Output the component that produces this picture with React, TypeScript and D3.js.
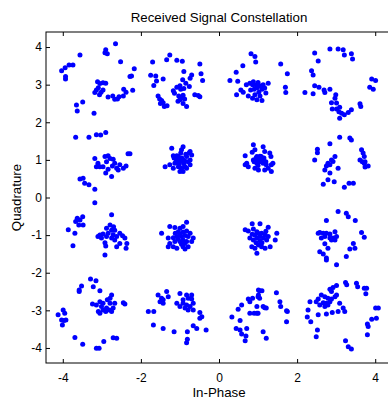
// App.tsx
// Scatter plot of received 16-QAM symbols
import React, { useEffect, useRef } from "react"
import * as d3 from "d3"

type Pt = [number, number]

// received symbols, grouped by the ideal constellation point they belong to [I, Q]
const nearM3P3: Pt[] = [
    [-4.03, 3.37], [-3.94, 3.45], [-3.84, 3.52], [-3.74, 3.52], [-3.93, 3.22], [-3.93, 3.15],
    [-3.56, 3.79], [-3.65, 2.46], [-3.63, 2.3], [-3.49, 2.54], [-3.2, 2.24], [-2.9, 3.93],
    [-2.92, 3.85], [-2.86, 3.82], [-2.65, 4.09], [-2.52, 3.61], [-2.28, 3.22], [-3.11, 3.08],
    [-3.05, 3.03], [-2.97, 3.05], [-2.9, 3.04], [-3.09, 2.92], [-3.14, 2.86], [-3.18, 2.79],
    [-3.06, 2.73], [-2.97, 2.86], [-3.02, 2.8], [-2.84, 2.67], [-2.72, 2.7], [-2.67, 2.61],
    [-2.6, 2.62], [-2.56, 2.68], [-2.44, 2.88], [-2.38, 2.8], [-2.45, 2.7], [-2.17, 3.42],
    [-2.24, 3.23], [-2.21, 2.85],
]

const nearM1P3: Pt[] = [
    [-1.7, 3.6], [-1.75, 3.25], [-1.62, 3.23], [-1.6, 3.1], [-1.67, 2.98], [-1.43, 3.15],
    [-1.34, 3.66], [-1.26, 3.79], [-1.08, 3.65], [-0.94, 3.62], [-0.49, 3.55], [-0.46, 3.29],
    [-0.42, 3.11], [-1.56, 2.7], [-1.52, 2.62], [-1.47, 2.58], [-1.43, 2.52], [-1.5, 2.5],
    [-1.4, 2.42], [-1.33, 2.44], [-1.17, 2.84], [-1.14, 2.77], [-1.08, 2.93], [-1.0, 2.97],
    [-1.03, 2.7], [-0.97, 2.64], [-0.92, 2.72], [-1.0, 2.6], [-1.05, 2.56], [-0.88, 2.62],
    [-0.92, 2.5], [-0.98, 2.88], [-0.9, 2.9], [-0.9, 3.35], [-0.93, 3.13], [-0.85, 3.04],
    [-0.74, 3.17], [-0.7, 3.26], [-0.76, 2.95], [-0.62, 2.73], [-0.53, 2.71], [-0.49, 2.68],
    [-0.83, 2.42],
]

const nearP1P3: Pt[] = [
    [0.28, 3.11], [0.44, 3.33], [0.48, 3.09], [0.61, 3.5], [0.82, 3.82], [0.92, 3.75],
    [0.94, 3.6], [0.79, 3.04], [0.86, 3.0], [0.95, 2.99], [1.0, 3.06], [0.81, 2.86],
    [0.9, 2.88], [0.92, 2.73], [0.86, 2.64], [0.97, 2.6], [0.45, 2.73], [0.56, 2.86],
    [1.04, 2.97], [1.1, 2.88], [1.17, 2.91], [1.26, 3.04], [1.1, 2.58], [1.58, 3.55],
    [1.75, 3.29], [1.7, 2.93], [1.71, 2.79], [1.02, 2.8], [0.98, 2.92], [0.7, 3.0],
    [0.62, 2.8], [1.05, 2.7], [0.88, 3.08], [1.13, 3.0], [0.75, 2.7], [1.2, 2.78],
]

const nearP3P3: Pt[] = [
    [2.45, 3.84], [2.54, 3.63], [2.37, 3.37], [2.41, 3.26], [2.84, 3.95], [3.05, 3.95],
    [3.18, 3.93], [3.21, 3.79], [3.39, 3.82], [3.42, 3.68], [2.2, 2.79], [2.41, 2.76],
    [2.45, 2.97], [2.56, 2.93], [2.69, 2.86], [2.71, 2.79], [2.84, 2.88], [2.99, 2.73],
    [2.97, 2.64], [2.88, 2.52], [3.01, 2.51], [2.9, 2.35], [3.01, 2.35], [3.09, 2.4],
    [3.07, 2.28], [3.14, 2.24], [3.21, 2.2], [3.09, 2.11], [3.31, 2.26], [3.39, 2.33],
    [3.61, 2.49], [3.63, 2.42], [3.86, 2.93], [3.95, 2.88], [3.91, 3.15], [4.01, 3.11],
]

const nearM3P1: Pt[] = [
    [-3.67, 1.6], [-3.33, 1.6], [-3.14, 1.67], [-3.03, 1.66], [-2.9, 1.73], [-2.33, 1.16],
    [-2.28, 1.16], [-3.18, 1.04], [-3.1, 0.91], [-3.05, 0.82], [-2.92, 1.09], [-2.84, 1.11],
    [-2.79, 1.04], [-2.88, 0.95], [-2.71, 1.02], [-2.67, 0.91], [-2.73, 0.84], [-2.62, 0.78],
    [-2.54, 0.87], [-2.58, 0.73], [-2.45, 0.78], [-2.38, 0.84], [-2.97, 0.82], [-2.84, 0.75],
    [-2.9, 0.65], [-2.75, 0.56], [-3.14, 0.82], [-3.56, 0.49], [-3.48, 0.51], [-3.44, 0.38],
    [-3.33, 0.34], [-3.18, 0.22], [-3.18, -0.14],
]

const nearM3M1: Pt[] = [
    [-3.63, -0.55], [-3.67, -0.64], [-3.59, -0.73], [-3.49, -0.51], [-3.56, -0.6], [-3.48, -0.73],
    [-3.86, -0.86], [-3.69, -0.95], [-3.74, -1.28], [-2.75, -0.46], [-2.79, -0.73], [-2.88, -0.82],
    [-2.7, -0.78], [-2.75, -0.87], [-2.67, -0.87], [-3.05, -1.0], [-3.1, -1.04], [-2.97, -0.97],
    [-3.01, -1.08], [-2.84, -0.95], [-2.88, -1.04], [-2.71, -0.99], [-2.62, -1.04], [-2.67, -1.13],
    [-2.75, -1.08], [-2.54, -0.95], [-2.47, -1.02], [-2.41, -1.08], [-2.36, -1.22], [-2.54, -1.22],
    [-2.62, -1.31], [-2.92, -1.2], [-2.9, -1.29], [-2.92, -1.53], [-2.38, -1.35],
]

const nearM1P1: Pt[] = [
    [-1.21, 1.31], [-0.92, 1.35], [-0.96, 1.27], [-0.74, 1.22], [-0.7, 1.13], [-1.17, 1.11],
    [-1.04, 1.09], [-0.83, 1.09], [-0.92, 1.0], [-1.0, 0.95], [-0.79, 0.95], [-1.13, 0.91],
    [-1.38, 0.82], [-1.26, 0.87], [-1.17, 0.78], [-1.04, 0.82], [-0.96, 0.78], [-0.87, 0.82],
    [-0.74, 0.87], [-1.0, 0.69], [-0.92, 0.69], [-0.83, 0.78], [-0.76, 1.19], [-0.74, 1.0],
    [-1.08, 1.11], [-1.05, 1.02], [-0.95, 1.05], [-1.1, 0.95], [-0.9, 0.9], [-0.85, 1.15],
    [-1.15, 1.05], [-0.98, 1.18], [-1.02, 0.88], [-0.88, 0.98],
]

const nearM1M1: Pt[] = [
    [-0.83, -0.66], [-1.26, -0.77], [-1.13, -0.8], [-1.0, -0.82], [-0.92, -0.77], [-1.47, -0.95],
    [-1.04, -0.91], [-0.83, -0.89], [-0.74, -0.95], [-1.3, -1.08], [-1.17, -1.07], [-1.08, -1.04],
    [-0.96, -1.04], [-0.87, -1.01], [-0.79, -1.04], [-0.66, -1.08], [-1.26, -1.22], [-1.13, -1.17],
    [-1.0, -1.17], [-0.92, -1.13], [-0.83, -1.17], [-0.7, -1.17], [-1.3, -1.31], [-1.17, -1.31],
    [-1.08, -1.35], [-0.92, -1.31], [-0.79, -1.31], [-0.87, -1.37], [-1.0, -0.98], [-0.92, -0.92],
    [-1.05, -1.1], [-0.88, -1.22], [-1.12, -0.95], [-0.96, -1.24],
]

const nearP1P1: Pt[] = [
    [0.88, 1.4], [0.67, 1.11], [0.71, 0.91], [0.75, 0.82], [0.67, 0.87], [0.92, 1.27],
    [0.97, 1.09], [0.88, 1.0], [0.97, 0.91], [0.92, 0.78], [1.01, 0.73], [1.13, 1.35],
    [1.17, 1.22], [1.3, 1.18], [1.33, 1.09], [1.08, 1.09], [1.04, 0.95], [1.13, 0.91],
    [1.21, 0.87], [1.34, 0.87], [1.26, 0.78], [1.17, 0.73], [1.34, 0.69], [1.38, 0.91],
    [1.0, 1.0], [1.05, 1.1], [0.95, 1.05], [1.1, 1.0], [0.9, 0.95], [1.0, 0.85],
    [1.15, 1.05], [0.85, 1.2], [1.2, 0.95],
]

const nearP1M1: Pt[] = [
    [0.85, -0.7], [1.05, -0.7], [1.26, -0.79], [1.48, -0.95], [0.67, -0.86], [0.75, -0.89],
    [0.88, -0.84], [0.97, -0.91], [1.09, -0.95], [1.18, -0.99], [1.26, -1.04], [0.79, -1.08],
    [0.88, -1.13], [0.97, -1.08], [1.05, -1.04], [1.14, -1.08], [1.22, -1.13], [1.44, -1.13],
    [0.84, -1.31], [0.92, -1.35], [1.01, -1.26], [1.09, -1.31], [1.18, -1.35], [1.31, -1.31],
    [0.97, -1.48], [0.92, -1.0], [1.0, -0.95], [1.05, -1.15], [0.85, -0.98], [1.1, -1.2],
    [0.95, -1.2], [1.2, -0.9],
]

const nearP3P1: Pt[] = [
    [3.09, 1.6], [3.35, 1.58], [3.39, 1.53], [2.84, 1.43], [2.52, 1.28], [2.52, 1.19],
    [2.45, 1.0], [2.97, 1.09], [2.88, 1.0], [2.79, 0.91], [2.84, 0.87], [2.75, 0.84],
    [2.92, 0.96], [2.71, 0.73], [2.84, 0.65], [2.79, 0.47], [3.05, 0.78], [2.95, 0.42],
    [2.67, 0.35], [3.21, 0.27], [3.33, 0.38], [3.44, 0.38], [3.65, 1.27], [3.69, 1.18],
    [3.72, 1.09], [3.61, 1.0], [3.67, 0.95], [3.74, 0.95], [3.82, 0.84], [3.74, 0.81],
    [3.72, 0.91],
]

const nearP3M1: Pt[] = [
    [3.05, -0.37], [3.26, -0.42], [3.31, -0.51], [3.49, -0.61], [2.75, -0.61], [2.54, -0.95],
    [2.58, -0.93], [2.67, -0.95], [2.75, -0.95], [2.84, -0.97], [2.97, -0.91], [3.01, -1.04],
    [2.92, -1.08], [2.84, -1.08], [2.71, -1.04], [2.62, -1.08], [2.88, -1.13], [2.97, -1.13],
    [2.71, -1.23], [2.79, -1.35], [2.58, -1.44], [2.67, -1.5], [2.75, -1.61], [3.26, -1.57],
    [3.65, -0.93], [3.72, -1.06], [3.48, -1.35], [3.35, -1.37], [3.44, -1.22], [2.75, -1.66],
    [3.01, -1.79],
]

const nearM3M3: Pt[] = [
    [-4.12, -3.12], [-3.99, -2.99], [-3.95, -3.08], [-4.03, -3.26], [-3.97, -3.27], [-3.92, -3.26],
    [-4.01, -3.39], [-3.69, -3.72], [-3.49, -3.9], [-3.14, -4.01], [-3.07, -4.01], [-2.95, -3.83],
    [-2.71, -3.73], [-2.62, -3.74], [-3.58, -2.46], [-3.52, -2.35], [-3.58, -2.5], [-3.29, -2.17],
    [-3.15, -2.21], [-3.22, -2.37], [-3.05, -2.48], [-3.24, -2.83], [-3.14, -2.86], [-3.05, -2.77],
    [-3.01, -2.9], [-3.09, -3.03], [-2.97, -2.99], [-2.9, -3.03], [-2.81, -2.99], [-2.88, -2.94],
    [-2.97, -2.81], [-2.79, -2.81], [-2.75, -2.59], [-2.79, -2.68], [-2.86, -2.72], [-2.67, -2.81],
    [-2.71, -2.94], [-2.75, -3.03], [-2.45, -2.8], [-2.41, -2.83], [-3.05, -3.08],
]

const nearM1M3: Pt[] = [
    [-1.81, -3.03], [-1.67, -3.03], [-1.68, -3.39], [-1.43, -3.48], [-1.15, -3.57], [-0.81, -3.57],
    [-0.81, -3.77], [-0.83, -3.86], [-0.66, -3.41], [-0.57, -3.48], [-0.33, -3.52], [-0.49, -3.06],
    [-0.44, -3.17], [-0.49, -3.21], [-1.56, -2.59], [-1.47, -2.68], [-1.51, -2.77], [-1.43, -2.72],
    [-1.34, -2.5], [-1.3, -2.64], [-1.43, -2.81], [-1.0, -2.55], [-0.83, -2.59], [-0.7, -2.59],
    [-0.79, -2.68], [-0.92, -2.72], [-1.08, -2.81], [-1.0, -2.9], [-0.87, -2.94], [-0.74, -2.9],
    [-0.66, -2.81], [-0.92, -2.81], [-0.7, -2.7], [-0.83, -2.86], [-0.66, -2.99], [-0.79, -2.99],
]

const nearP1M3: Pt[] = [
    [1.04, -2.48], [1.1, -2.48], [1.0, -2.64], [1.04, -2.68], [1.13, -2.9], [1.17, -2.93],
    [1.21, -2.94], [1.0, -3.08], [1.47, -2.53], [1.56, -2.77], [1.58, -2.9], [1.73, -3.01],
    [1.75, -3.03], [1.73, -3.3], [1.13, -3.57], [1.21, -3.74], [0.33, -3.18], [0.54, -3.27],
    [0.44, -3.48], [0.54, -3.52], [0.71, -3.48], [0.69, -3.68], [0.67, -3.81], [0.58, -3.63],
    [0.49, -2.97], [0.58, -2.86], [0.75, -2.7], [0.79, -2.77], [0.86, -2.68], [1.01, -2.46],
    [1.01, -2.59], [0.97, -2.9], [0.9, -3.08], [0.97, -3.08], [0.79, -3.08],
]

const nearP3M3: Pt[] = [
    [3.24, -2.26], [3.27, -2.32], [3.52, -2.28], [3.55, -2.37], [3.72, -2.41], [3.78, -2.41],
    [3.76, -2.56], [3.01, -2.34], [2.92, -2.39], [2.84, -2.44], [2.88, -2.5], [2.62, -2.59],
    [2.71, -2.64], [2.79, -2.68], [2.88, -2.7], [2.97, -2.64], [3.01, -2.59], [2.84, -2.77],
    [2.75, -2.81], [2.67, -2.8], [2.54, -2.7], [2.49, -2.77], [2.58, -2.86], [2.71, -2.9],
    [2.79, -2.86], [3.09, -2.81], [3.18, -2.94], [3.22, -3.03], [3.05, -3.03], [2.9, -3.06],
    [2.75, -3.1], [2.54, -3.12], [2.33, -2.77], [2.28, -2.99], [2.26, -3.18], [2.35, -3.3],
    [2.52, -3.52], [2.49, -3.7], [3.24, -3.81], [3.31, -3.97], [3.39, -4.03], [3.8, -3.36],
    [3.82, -3.43], [3.8, -3.65], [3.91, -3.24], [4.01, -2.94], [4.08, -2.94], [4.03, -3.21],
]

const clusters: Pt[][] = [
    nearM3P3, nearM1P3, nearP1P3, nearP3P3,
    nearM3P1, nearM1P1, nearP1P1, nearP3P1,
    nearM3M1, nearM1M1, nearP1M1, nearP3M1,
    nearM3M3, nearM1M3, nearP1M3, nearP3M3,
]

const xTicks = [-4, -2, 0, 2, 4]
const yTicks = [-4, -3, -2, -1, 0, 1, 2, 3, 4]

const W = 388
const H = 401
const FONT = "'Liberation Sans', Arial, Helvetica, sans-serif"

export default function App() {
    const ref = useRef<SVGSVGElement>(null)

    useEffect(() => {
        if (!ref.current) return
        const svg = d3.select(ref.current)
        svg.selectAll("*").remove()

        const left = 46, right = 392, top = 32, bottom = 363
        const x = d3.scaleLinear().domain([-4.43, 4.43]).range([left, right])
        const y = d3.scaleLinear().domain([-4.4, 4.4]).range([bottom, top])

        // box
        svg.append("rect")
            .attr("x", left).attr("y", top)
            .attr("width", right - left).attr("height", bottom - top)
            .attr("fill", "none").attr("stroke", "#000").attr("stroke-width", 1)

        const fmt = (d: d3.NumberValue) => String(d)

        const xb = svg.append("g").attr("transform", `translate(0,${bottom})`)
            .call(d3.axisBottom(x).tickValues(xTicks).tickFormat(fmt).tickSizeInner(-4).tickSizeOuter(0).tickPadding(10))
        const xt = svg.append("g").attr("transform", `translate(0,${top})`)
            .call(d3.axisTop(x).tickValues(xTicks).tickFormat(() => "").tickSizeInner(-4).tickSizeOuter(0))
        const yl = svg.append("g").attr("transform", `translate(${left},0)`)
            .call(d3.axisLeft(y).tickValues(yTicks).tickFormat(fmt).tickSizeInner(-4).tickSizeOuter(0).tickPadding(4))
        const yr = svg.append("g").attr("transform", `translate(${right},0)`)
            .call(d3.axisRight(y).tickValues(yTicks).tickFormat(() => "").tickSizeInner(-4).tickSizeOuter(0))

        for (const g of [xb, xt, yl, yr]) {
            g.select(".domain").remove()
            g.selectAll("text").attr("font-family", FONT).attr("font-size", 12).attr("fill", "#000")
            g.selectAll("line").attr("stroke", "#000")
        }

        // symbols
        svg.append("g")
            .selectAll("circle")
            .data(clusters.flat())
            .enter()
            .append("circle")
            .attr("cx", (d) => x(d[0]))
            .attr("cy", (d) => y(d[1]))
            .attr("r", 2.5)
            .attr("fill", "#0000ff")

        svg.append("text")
            .attr("x", x(0)).attr("y", 22)
            .attr("text-anchor", "middle")
            .attr("font-family", FONT).attr("font-size", 13.3)
            .text("Received Signal Constellation")

        svg.append("text")
            .attr("x", x(0)).attr("y", 397)
            .attr("text-anchor", "middle")
            .attr("font-family", FONT).attr("font-size", 13.3)
            .text("In-Phase")

        svg.append("text")
            .attr("transform", `translate(21,${y(0)}) rotate(-90)`)
            .attr("text-anchor", "middle")
            .attr("font-family", FONT).attr("font-size", 13.3)
            .text("Quadrature")
    }, [])

    return (
        <svg
            ref={ref}
            width={W}
            height={H}
            style={{ position: "absolute", left: 0, top: 0, background: "#fff", overflow: "hidden" }}
        />
    )
}
